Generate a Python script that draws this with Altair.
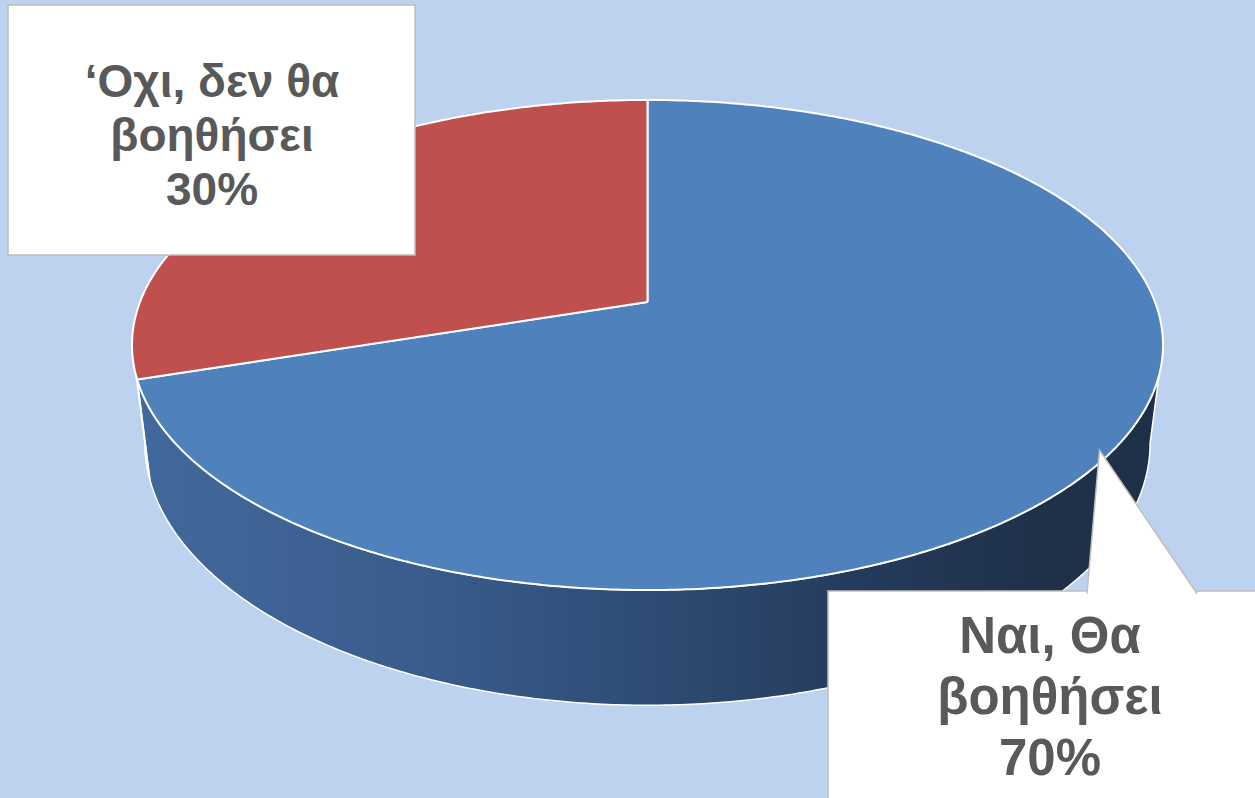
import numpy as np
import pandas as pd
import altair as alt

# ---------------- data ----------------
categories = ["Ναι, Θα βοηθήσει", "‘Οχι, δεν θα βοηθήσει"]
shares = [70, 30]

# ---------------- styling / geometry constants ----------------
W, H = 1255, 798
BG = "#BDD2EE"
TOP_COLORS = ["#4F81BD", "#C0504D"]
SIDE_FILLS = [
    alt.LinearGradient(
        gradient="linear", x1=0, y1=0, x2=1, y2=0,
        stops=[
            alt.GradientStop(color="#42699C", offset=0),
            alt.GradientStop(color="#3A5C8C", offset=0.28),
            alt.GradientStop(color="#30507A", offset=0.45),
            alt.GradientStop(color="#253B5C", offset=0.70),
            alt.GradientStop(color="#1F3149", offset=0.88),
            alt.GradientStop(color="#1E3048", offset=1),
        ],
    ),
    "#B0423F",
]
TEXT_COLOR = "#595959"
FONT = "Liberation Sans"

CX, CY = 647.5, 302.0      # projected pie centre
AX, AY = 507.5, 237.5      # projected radii
TILT = 0.1755              # perspective factor
DEPTH = 95.0               # thickness of the pie
BOTTOM_SCALE = 0.975       # bottom rim slightly narrower (perspective)
STEP = 0.5                 # angular sampling in degrees


def project(theta_deg, r=1.0):
    th = np.radians(theta_deg)
    X = r * np.sin(th)
    Z = r * np.cos(th)
    w = 1 + TILT * Z
    return CX + AX * X / w, CY - AY * Z / w, w


def samples(a0, a1):
    n = max(2, int(abs(a1 - a0) / STEP) + 1)
    return np.linspace(a0, a1, n)


total = float(sum(shares))
bounds = np.concatenate([[0.0], np.cumsum(shares)]) / total * 360.0
theta_r = np.degrees(np.arccos(-TILT))       # right silhouette of side
theta_l = 360.0 - theta_r                     # left silhouette of side

rows = []
for k, cat in enumerate(categories):
    a0, a1 = bounds[k], bounds[k + 1]
    # top face polygon: centre -> arc -> centre
    xs, ys, _ = project(samples(a0, a1))
    pts = [(CX, CY)] + list(zip(xs, ys)) + [(CX, CY)]
    for i, (x, y) in enumerate(pts):
        rows.append({"part": "top", "slice": k, "i": i, "x": x, "y": y})
    # visible side wall
    s0, s1 = max(a0, theta_r), min(a1, theta_l)
    if s1 > s0:
        th = samples(s0, s1)
        xt, yt, wt = project(th)
        xb = CX + BOTTOM_SCALE * (xt - CX)
        yb = yt + DEPTH / wt
        pts = list(zip(xt, yt)) + list(zip(xb[::-1], yb[::-1])) + [(xt[0], yt[0])]
        for i, (x, y) in enumerate(pts):
            rows.append({"part": "side", "slice": k, "i": i, "x": x, "y": y})

geo = pd.DataFrame(rows)

xscale = alt.Scale(domain=[0, W], nice=False, zero=False)
yscale = alt.Scale(domain=[H, 0], nice=False, zero=False)

base = alt.Chart(geo).encode(
    x=alt.X("x:Q", scale=xscale, axis=None),
    y=alt.Y("y:Q", scale=yscale, axis=None),
    order=alt.Order("i:Q"),
)

layers = []
for k in range(len(categories)):
    if ((geo.part == "side") & (geo.slice == k)).any():
        layers.append(
            base.transform_filter((alt.datum.part == "side") & (alt.datum.slice == k))
            .mark_line(fill=SIDE_FILLS[k], stroke="white", strokeWidth=1.5, strokeJoin="round")
        )
for k in range(len(categories)):
    layers.append(
        base.transform_filter((alt.datum.part == "top") & (alt.datum.slice == k))
        .mark_line(fill=TOP_COLORS[k], stroke="white", strokeWidth=2, strokeJoin="round")
    )

# ---------------- labels ----------------
labels = []
for cat, sh in zip(categories, shares):
    head, tail = cat.rsplit(" ", 1)
    labels.append(f"{head}\n{tail}\n{sh}%")
lab = pd.DataFrame({"slice": list(range(len(categories))), "label": labels})

box_style = dict(fill="white", stroke="#BFBFBF", strokeWidth=1.5)

# callout pointer for the "yes" label, tip on the slice rim
tip_x, tip_y, _ = project(125.0, 0.98)
BOX1 = (828, 591)
ptr = pd.DataFrame({
    "i": [0, 1, 2, 3],
    "x": [tip_x, BOX1[0] + 259, BOX1[0] + 369, tip_x],
    "y": [tip_y, BOX1[1] + 2.5, BOX1[1] + 2.5, tip_y],
})
ptr_edge = ptr.iloc[[1, 0, 2]].assign(i=[0, 1, 2])

ptr_fill = alt.Chart(ptr).mark_line(fill="white", strokeWidth=0).encode(
    x=alt.X("x:Q", scale=xscale, axis=None),
    y=alt.Y("y:Q", scale=yscale, axis=None),
    order="i:Q",
)
ptr_line = alt.Chart(ptr_edge).mark_line(stroke="#BFBFBF", strokeWidth=1.5).encode(
    x=alt.X("x:Q", scale=xscale, axis=None),
    y=alt.Y("y:Q", scale=yscale, axis=None),
    order="i:Q",
)

box_yes = alt.Chart(lab).transform_filter(alt.datum.slice == 0).mark_rect(**box_style).encode(
    x=alt.value(BOX1[0]), x2=alt.value(W + 10), y=alt.value(BOX1[1]), y2=alt.value(H + 10)
)
box_no = alt.Chart(lab).transform_filter(alt.datum.slice == 1).mark_rect(**box_style).encode(
    x=alt.value(8), x2=alt.value(415), y=alt.value(5), y2=alt.value(255)
)

text_yes = alt.Chart(lab).transform_filter(alt.datum.slice == 0).mark_text(
    font=FONT, fontWeight="bold", fontSize=51, lineHeight=61, color=TEXT_COLOR,
    align="center", baseline="middle", lineBreak="\n",
).encode(x=alt.value(1050), y=alt.value(638), text="label:N")

text_no = alt.Chart(lab).transform_filter(alt.datum.slice == 1).mark_text(
    font=FONT, fontWeight="bold", fontSize=46, lineHeight=54, color=TEXT_COLOR,
    align="center", baseline="middle", lineBreak="\n",
).encode(x=alt.value(212), y=alt.value(83), text="label:N")

chart = alt.layer(
    *layers, box_yes, ptr_fill, ptr_line, box_no, text_yes, text_no
).properties(
    width=W, height=H, background=BG, padding=0,
    autosize=alt.AutoSizeParams(type="none"),
).configure_view(strokeWidth=0)

chart.save("out.html", embed_options={"renderer": "svg", "actions": False})
